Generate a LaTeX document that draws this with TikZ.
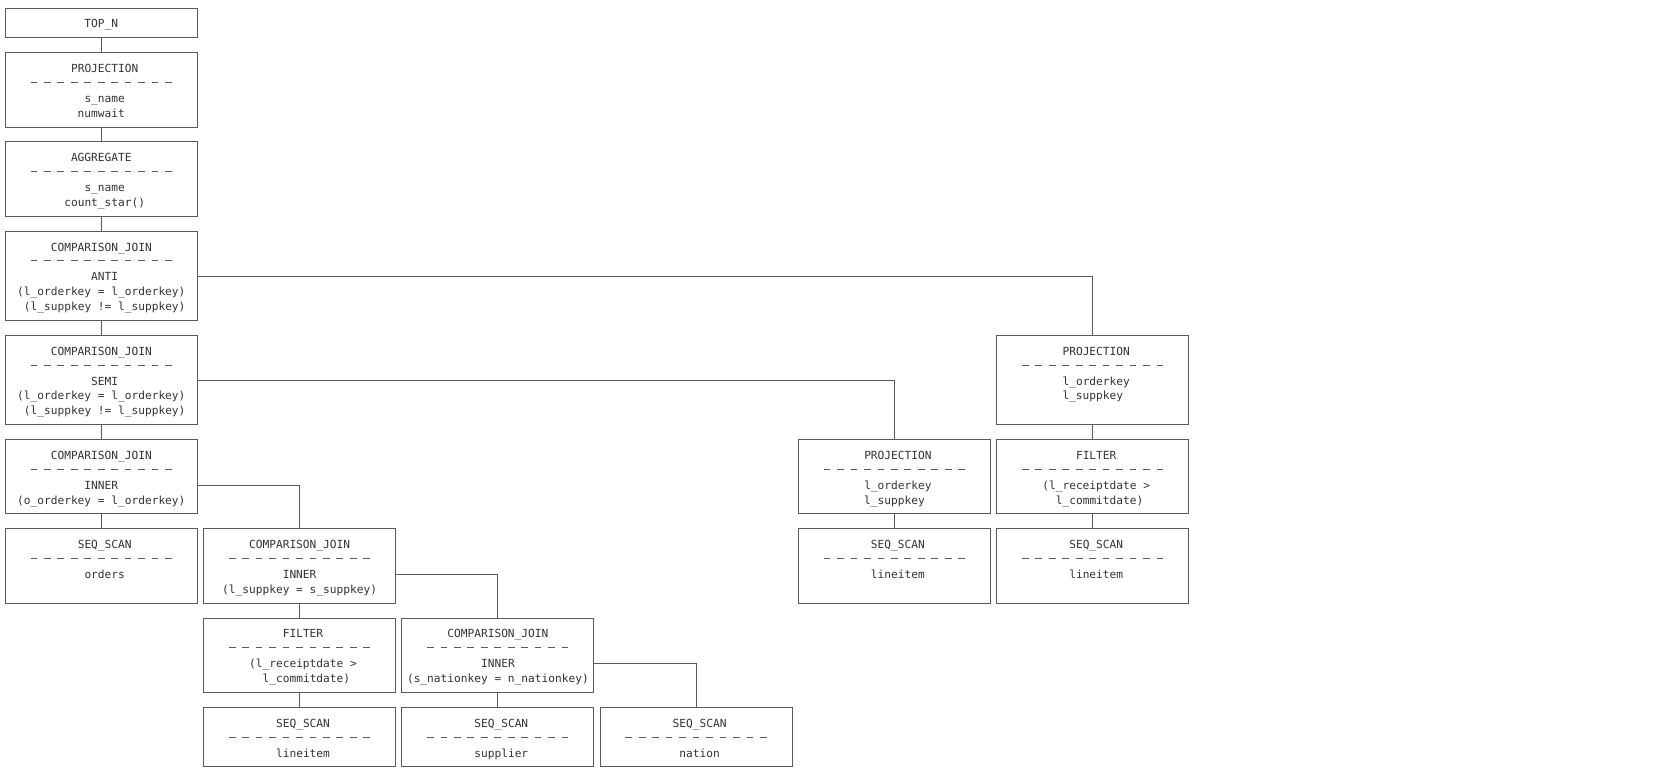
\documentclass[tikz,border=0pt]{standalone}
\usepackage{fontspec}
\setmonofont{DejaVu Sans Mono}
\definecolor{ln}{HTML}{5A5A5A}
\definecolor{tx}{HTML}{333333}
\tikzset{
  opbox/.style={draw=ln, line width=1pt, minimum width=192pt, inner sep=0pt, outer sep=0pt, anchor=north west},
  optext/.style={font=\ttfamily\fontsize{11.18}{14}\selectfont, text=tx, inner sep=0pt, anchor=base},
  conn/.style={draw=ln, line width=1pt},
  sepdash/.style={draw=ln, line width=1pt, dash pattern=on 6.7pt off 6.76pt}
}
% box: name, column, top line, bottom line
\newcommand\mkbox[4]{\node[opbox, minimum height={(#4-#3)*14.88}] (#1) at ({5.3+#2*198.3},{8+#3*14.88}) {};}
% text line: name, column, line, x shift, text
\newcommand\tline[5]{\node[optext] (#1) at ({5.3+#2*198.3+96+#4},{8+#3*14.88+5}) {#5};}
% separator dashes: column, line
\newcommand\sepl[2]{\draw[sepdash] ({5.3+#1*198.3+25.2},{8+#2*14.88}) -- ++(141.3,0);}
\begin{document}
\begin{tikzpicture}[x=1pt,y=-1pt]
\fill[white] (0,0) rectangle (1654,777);
\useasboundingbox (0,0) rectangle (1654,777);

% ---- column 0
\mkbox{topn}{0}{0}{2}
\tline{topn-a}{0}{1}{0}{TOP\_N}

\mkbox{proj1}{0}{3}{8}
\tline{proj1-a}{0}{4}{3.4}{PROJECTION}
\sepl{0}{5}
\tline{proj1-b}{0}{6}{3.4}{s\_name}
\tline{proj1-c}{0}{7}{0}{numwait}

\mkbox{agg}{0}{9}{14}
\tline{agg-a}{0}{10}{0}{AGGREGATE}
\sepl{0}{11}
\tline{agg-b}{0}{12}{3.4}{s\_name}
\tline{agg-c}{0}{13}{3.4}{count\_star()}

\mkbox{anti}{0}{15}{21}
\tline{anti-a}{0}{16}{0}{COMPARISON\_JOIN}
\sepl{0}{17}
\tline{anti-b}{0}{18}{3.4}{ANTI}
\tline{anti-c}{0}{19}{0}{(l\_orderkey = l\_orderkey)}
\tline{anti-d}{0}{20}{3.4}{(l\_suppkey != l\_suppkey)}

\mkbox{semi}{0}{22}{28}
\tline{semi-a}{0}{23}{0}{COMPARISON\_JOIN}
\sepl{0}{24}
\tline{semi-b}{0}{25}{3.4}{SEMI}
\tline{semi-c}{0}{26}{0}{(l\_orderkey = l\_orderkey)}
\tline{semi-d}{0}{27}{3.4}{(l\_suppkey != l\_suppkey)}

\mkbox{innera}{0}{29}{34}
\tline{innera-a}{0}{30}{0}{COMPARISON\_JOIN}
\sepl{0}{31}
\tline{innera-b}{0}{32}{0}{INNER}
\tline{innera-c}{0}{33}{0}{(o\_orderkey = l\_orderkey)}

\mkbox{scanord}{0}{35}{40}
\tline{scanord-a}{0}{36}{3.4}{SEQ\_SCAN}
\sepl{0}{37}
\tline{scanord-b}{0}{38}{3.4}{orders}

% ---- column 1
\mkbox{innerb}{1}{35}{40}
\tline{innerb-a}{1}{36}{0}{COMPARISON\_JOIN}
\sepl{1}{37}
\tline{innerb-b}{1}{38}{0}{INNER}
\tline{innerb-c}{1}{39}{0}{(l\_suppkey = s\_suppkey)}

\mkbox{filta}{1}{41}{46}
\tline{filta-a}{1}{42}{3.4}{FILTER}
\sepl{1}{43}
\tline{filta-b}{1}{44}{3.4}{(l\_receiptdate >}
\tline{filta-c}{1}{45}{6.8}{l\_commitdate)}

\mkbox{scanlia}{1}{47}{51}
\tline{scanlia-a}{1}{48}{3.4}{SEQ\_SCAN}
\sepl{1}{49}
\tline{scanlia-b}{1}{50}{3.4}{lineitem}

% ---- column 2
\mkbox{innerc}{2}{41}{46}
\tline{innerc-a}{2}{42}{0}{COMPARISON\_JOIN}
\sepl{2}{43}
\tline{innerc-b}{2}{44}{0}{INNER}
\tline{innerc-c}{2}{45}{0}{(s\_nationkey = n\_nationkey)}

\mkbox{scansup}{2}{47}{51}
\tline{scansup-a}{2}{48}{3.4}{SEQ\_SCAN}
\sepl{2}{49}
\tline{scansup-b}{2}{50}{3.4}{supplier}

% ---- column 3
\mkbox{scannat}{3}{47}{51}
\tline{scannat-a}{3}{48}{3.4}{SEQ\_SCAN}
\sepl{3}{49}
\tline{scannat-b}{3}{50}{3.4}{nation}

% ---- column 4
\mkbox{projc}{4}{29}{34}
\tline{projc-a}{4}{30}{3.4}{PROJECTION}
\sepl{4}{31}
\tline{projc-b}{4}{32}{3.4}{l\_orderkey}
\tline{projc-c}{4}{33}{0}{l\_suppkey}

\mkbox{scanlib}{4}{35}{40}
\tline{scanlib-a}{4}{36}{3.4}{SEQ\_SCAN}
\sepl{4}{37}
\tline{scanlib-b}{4}{38}{3.4}{lineitem}

% ---- column 5
\mkbox{projb}{5}{22}{28}
\tline{projb-a}{5}{23}{3.4}{PROJECTION}
\sepl{5}{24}
\tline{projb-b}{5}{25}{3.4}{l\_orderkey}
\tline{projb-c}{5}{26}{0}{l\_suppkey}

\mkbox{filtb}{5}{29}{34}
\tline{filtb-a}{5}{30}{3.4}{FILTER}
\sepl{5}{31}
\tline{filtb-b}{5}{32}{3.4}{(l\_receiptdate >}
\tline{filtb-c}{5}{33}{6.8}{l\_commitdate)}

\mkbox{scanlic}{5}{35}{40}
\tline{scanlic-a}{5}{36}{3.4}{SEQ\_SCAN}
\sepl{5}{37}
\tline{scanlic-b}{5}{38}{3.4}{lineitem}

% ---- connectors
\draw[conn] (topn.south) -- (proj1.north);
\draw[conn] (proj1.south) -- (agg.north);
\draw[conn] (agg.south) -- (anti.north);
\draw[conn] (anti.south) -- (semi.north);
\draw[conn] (semi.south) -- (innera.north);
\draw[conn] (innera.south) -- (scanord.north);
\draw[conn] (innerb.south) -- (filta.north);
\draw[conn] (filta.south) -- (scanlia.north);
\draw[conn] (innerc.south) -- (scansup.north);
\draw[conn] (projc.south) -- (scanlib.north);
\draw[conn] (projb.south) -- (filtb.north);
\draw[conn] (filtb.south) -- (scanlic.north);

\draw[conn] (anti.east |- anti-b) -| (projb.north);
\draw[conn] (semi.east |- semi-b) -| (projc.north);
\draw[conn] (innera.east |- innera-b) -| (innerb.north);
\draw[conn] (innerb.east |- innerb-b) -| (innerc.north);
\draw[conn] (innerc.east |- innerc-b) -| (scannat.north);
\end{tikzpicture}
\end{document}
